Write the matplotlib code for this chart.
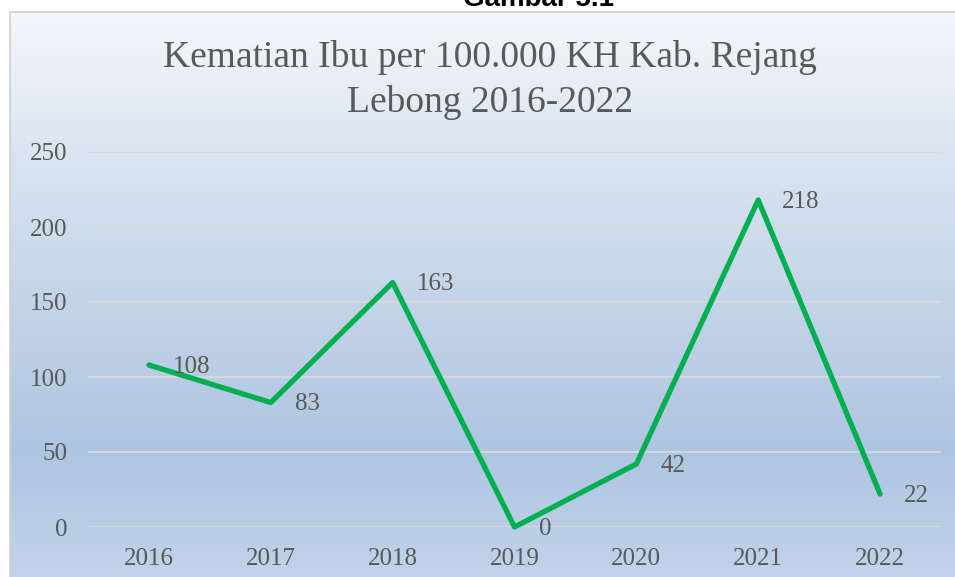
import numpy as np
import matplotlib.pyplot as plt

# Data
tahun = ['2016', '2017', '2018', '2019', '2020', '2021', '2022']
kematian = [108, 83, 163, 0, 42, 218, 22]
y_ticks = [0, 50, 100, 150, 200, 250]

judul_1 = 'Kematian Ibu per 100.000 KH Kab. Rejang'
judul_2 = 'Lebong 2016-2022'
gambar = 'Gambar 5.1'

W, H = 955, 577
abu = '#595959'
hijau = '#00B050'

fig = plt.figure(figsize=(W / 100, H / 100), dpi=100)
fig.patch.set_facecolor('white')

# background gradient of the chart box
bg = fig.add_axes([10 / W, 0, 1 - 10 / W, (H - 12) / H])
bg.set_axis_off()
py = np.arange(12, H + 1)
stop_y = [12, 150, 300, 450, 577]
stop_c = np.array([[244, 247, 251], [219, 229, 241], [196, 212, 232],
                   [174, 197, 224], [193, 211, 234]]) / 255
grad = np.stack([np.interp(py, stop_y, stop_c[:, k]) for k in range(3)], axis=-1)
bg.imshow(grad[:, None, :], aspect='auto', extent=[0, 1, 0, 1], interpolation='bilinear')
bg.set_xlim(0, 1)
bg.set_ylim(0, 1)
# only left and top border are visible in the crop
bg.plot([0, 0, 1], [0, 1, 1], color='#d0d0d0', linewidth=1.2, clip_on=False)

# plot area
x0, x1 = 88, 941
ytop, ybot = 152, 527
ax = fig.add_axes([x0 / W, (H - ybot) / H, (x1 - x0) / W, (ybot - ytop) / H])
ax.patch.set_alpha(0)
for s in ax.spines.values():
    s.set_visible(False)

x = np.arange(len(tahun))
ax.set_xlim(-0.5, len(tahun) - 0.5)
ax.set_ylim(0, 250)
ax.set_yticks(y_ticks)
ax.set_xticks(x)
ax.set_xticklabels(tahun)
ax.yaxis.grid(True, color='#d9d9d9', linewidth=1.3)
ax.set_axisbelow(True)
ax.tick_params(length=0, labelsize=18, labelcolor=abu)
ax.tick_params(axis='x', pad=15)
ax.tick_params(axis='y', pad=15)
for lab in ax.get_xticklabels() + ax.get_yticklabels():
    lab.set_fontfamily('Liberation Serif')

ax.plot(x, kematian, color=hijau, linewidth=3.8, solid_joinstyle='round',
        solid_capstyle='round', clip_on=False, zorder=3)

for xi, v in zip(x, kematian):
    ax.annotate(str(v), (xi, v), xytext=(24, -2), textcoords='offset pixels',
                ha='left', va='center', fontsize=18, color=abu,
                family='Liberation Serif', zorder=4)

# titles
fig.text(490 / W, 1 - 67 / H, judul_1, ha='center', va='baseline',
         fontsize=27, color=abu, family='Liberation Serif')
fig.text(490 / W, 1 - 112 / H, judul_2, ha='center', va='baseline',
         fontsize=27, color=abu, family='Liberation Serif')
fig.text(538 / W, 1 - 6 / H, gambar, ha='center', va='baseline',
         fontsize=20, fontweight='bold', color='black', family='Liberation Sans')

fig.savefig('out.png', dpi=100)
